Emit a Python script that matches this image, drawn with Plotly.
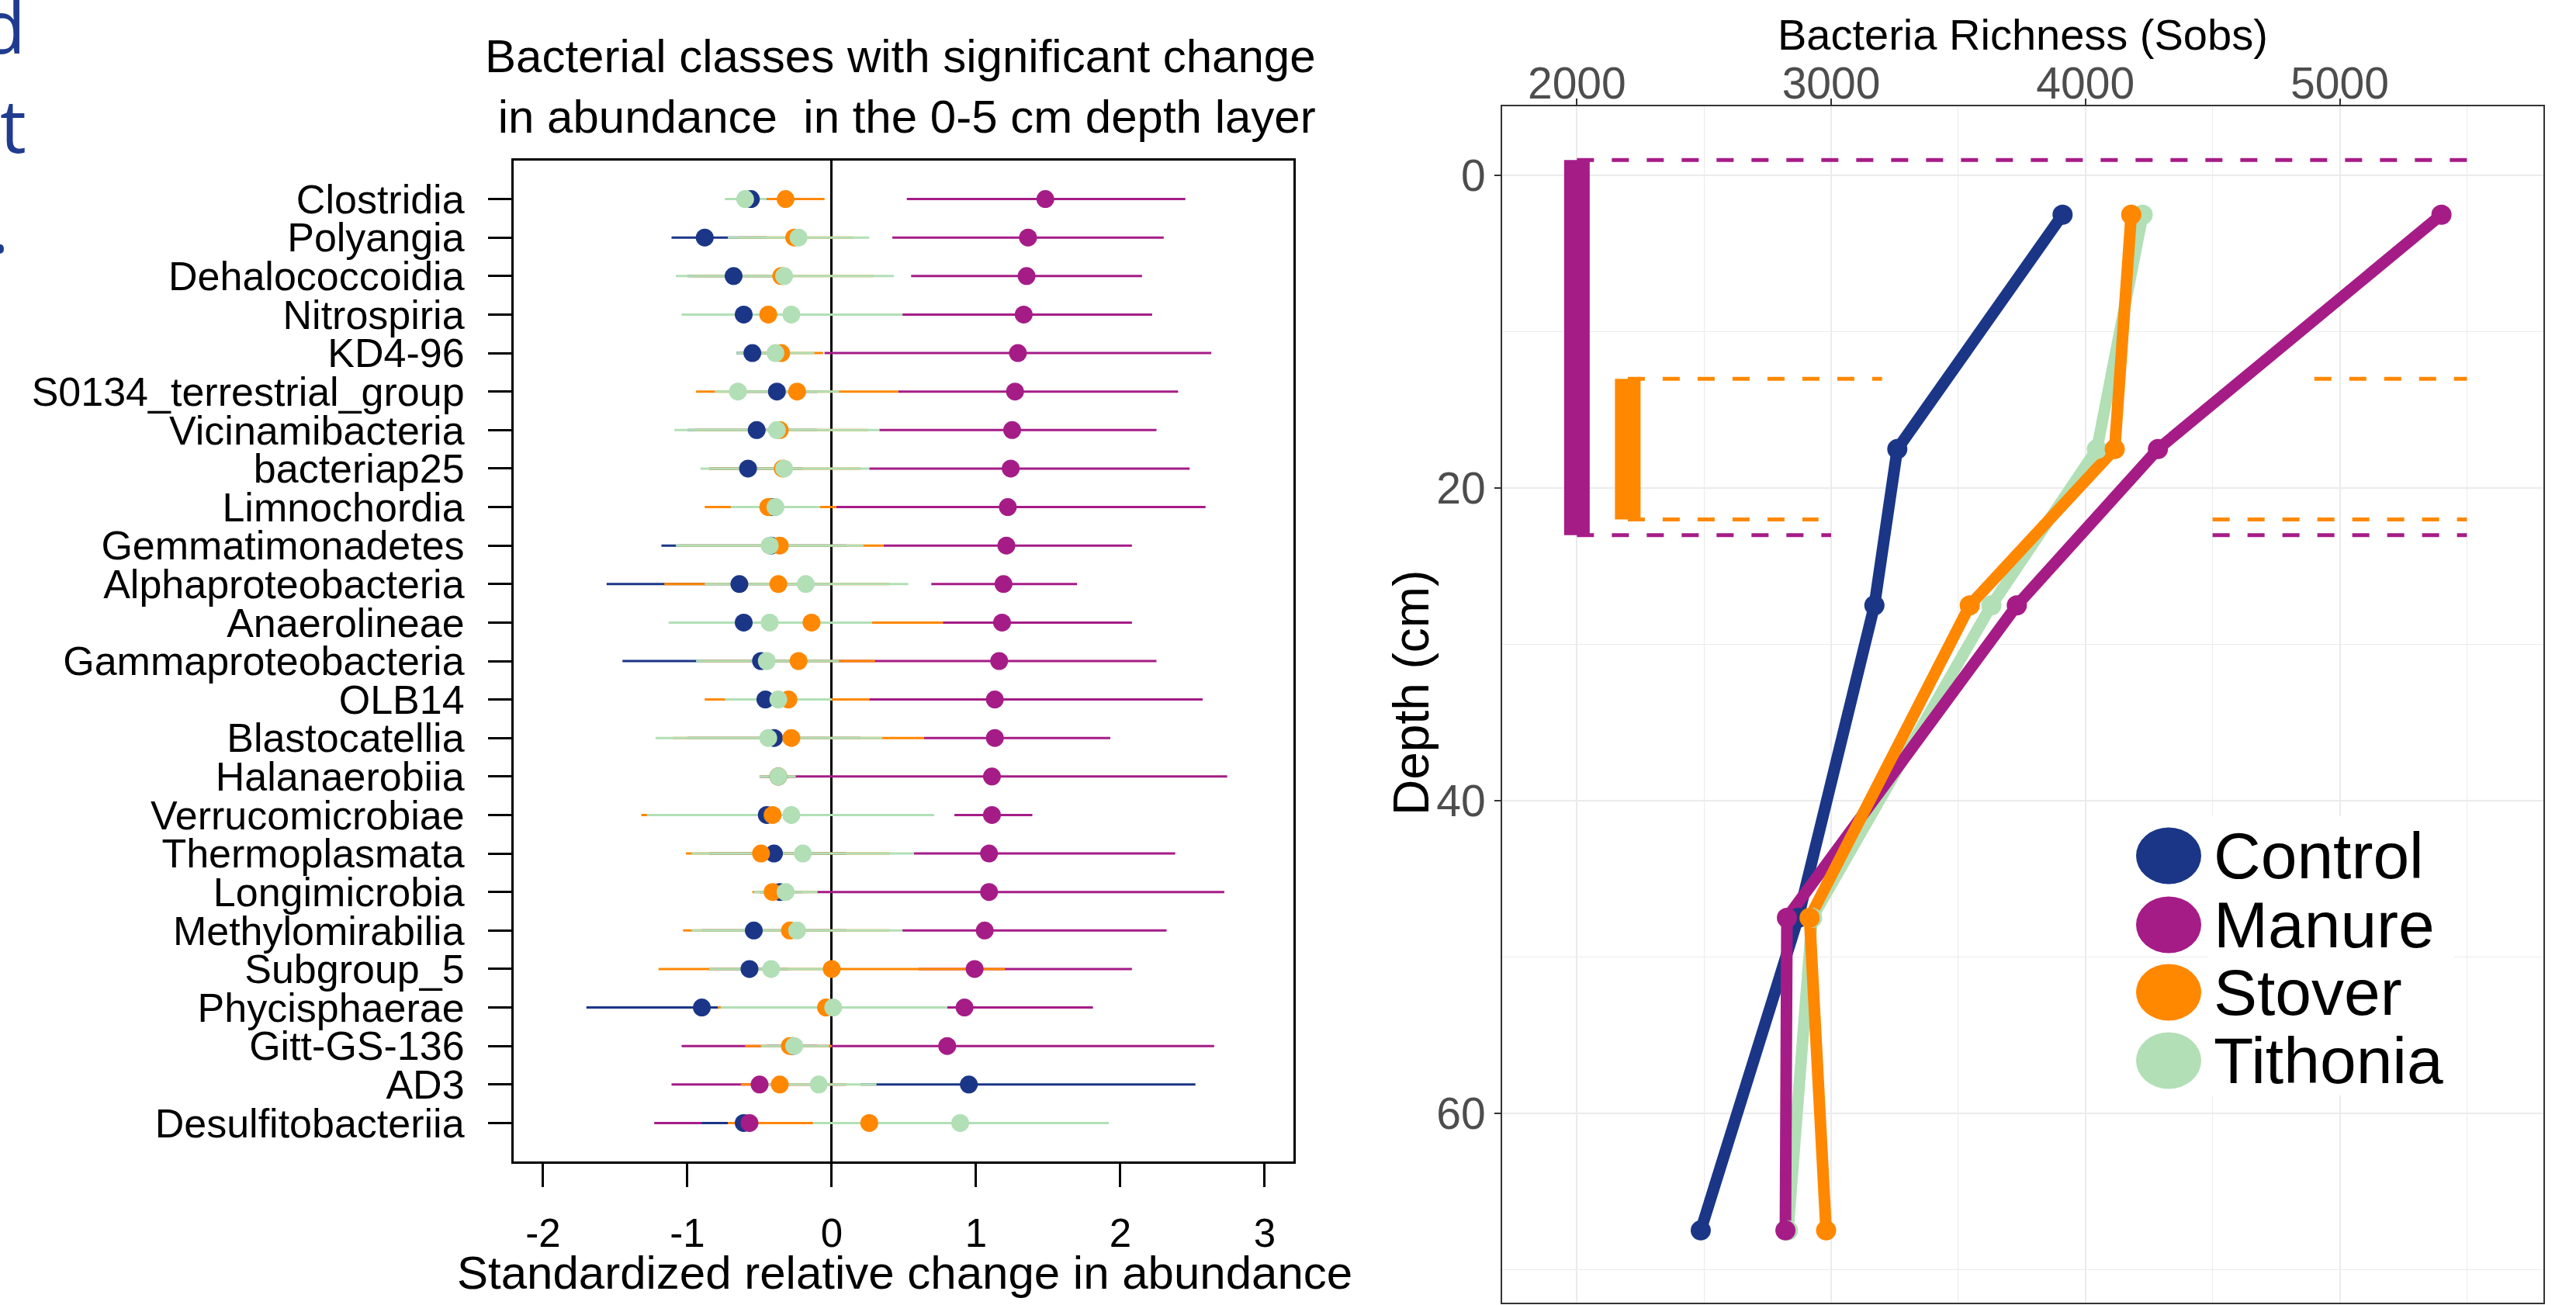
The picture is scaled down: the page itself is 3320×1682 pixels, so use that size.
import plotly.graph_objects as go

W, H = 3320, 1682
FONT = "Liberation Sans, Arial, Helvetica, sans-serif"

# ---------------- Left panel data (top -> bottom) ----------------
classes = ["Clostridia", "Polyangia", "Dehalococcoidia", "Nitrospiria", "KD4-96",
           "S0134_terrestrial_group", "Vicinamibacteria", "bacteriap25", "Limnochordia",
           "Gemmatimonadetes", "Alphaproteobacteria", "Anaerolineae", "Gammaproteobacteria",
           "OLB14", "Blastocatellia", "Halanaerobiia", "Verrucomicrobiae", "Thermoplasmata",
           "Longimicrobia", "Methylomirabilia", "Subgroup_5", "Phycisphaerae", "Gitt-GS-136",
           "AD3", "Desulfitobacteriia"]

control_mean = [-0.56, -0.88, -0.68, -0.61, -0.55, -0.38, -0.52, -0.58, -0.41, -0.42, -0.64, -0.61, -0.49,
                -0.46, -0.40, -0.37, -0.45, -0.40, -0.36, -0.54, -0.57, -0.90, -0.27, 0.95, -0.61]
control_lo = [-0.72, -1.11, -1.00, -0.98, -0.66, -0.70, -1.00, -0.85, -0.60, -1.18, -1.56, -1.00, -1.45,
              -0.70, -1.00, -0.50, -1.10, -0.85, -0.50, -0.90, -0.85, -1.70, -0.45, 0.20, -0.90]
control_hi = [-0.42, -0.45, -0.30, -0.25, -0.40, -0.10, -0.10, -0.20, -0.20, 0.10, 0.00, -0.20, 0.08,
              -0.20, 0.20, -0.25, 0.30, 0.10, -0.20, 0.10, -0.30, -0.77, -0.10, 2.52, -0.30]

manure_mean = [1.48, 1.36, 1.35, 1.33, 1.29, 1.27, 1.25, 1.24, 1.22, 1.21, 1.19, 1.18, 1.16,
               1.13, 1.13, 1.11, 1.11, 1.09, 1.09, 1.06, 0.99, 0.92, 0.80, -0.50, -0.57]
manure_lo = [0.52, 0.42, 0.55, 0.49, -0.05, 0.46, 0.33, 0.26, 0.03, 0.36, 0.69, 0.77, 0.08,
             0.26, 0.64, -0.50, 0.85, 0.57, -0.10, 0.49, 0.60, 0.80, -1.04, -1.11, -1.23]
manure_hi = [2.45, 2.30, 2.15, 2.22, 2.63, 2.40, 2.25, 2.48, 2.59, 2.08, 1.70, 2.08, 2.25,
             2.57, 1.93, 2.74, 1.39, 2.38, 2.72, 2.32, 2.08, 1.81, 2.65, 0.10, 0.10]

stover_mean = [-0.32, -0.26, -0.35, -0.44, -0.35, -0.24, -0.36, -0.34, -0.44, -0.36, -0.37, -0.14, -0.23,
               -0.30, -0.28, -0.37, -0.41, -0.49, -0.41, -0.29, 0.00, -0.04, -0.29, -0.36, 0.26]
stover_lo = [-0.45, -0.65, -0.97, -0.98, -0.62, -0.94, -0.95, -0.85, -0.88, -1.05, -1.16, -1.00, -0.90,
             -0.88, -1.10, -0.50, -1.32, -1.01, -0.55, -1.03, -1.20, -0.79, -0.60, -0.63, -0.72]
stover_hi = [-0.05, 0.15, 0.29, 0.10, -0.06, 0.46, 0.25, 0.20, 0.03, 0.36, 0.40, 0.77, 0.30,
             0.26, 0.64, -0.25, 0.50, 0.40, -0.10, 0.40, 1.20, 0.70, 0.00, 0.10, 0.99]

tithonia_mean = [-0.60, -0.23, -0.33, -0.28, -0.39, -0.65, -0.38, -0.33, -0.39, -0.43, -0.18, -0.43, -0.45,
                 -0.37, -0.44, -0.37, -0.28, -0.20, -0.32, -0.24, -0.42, 0.01, -0.26, -0.09, 0.89]
tithonia_lo = [-0.74, -0.72, -1.08, -1.04, -0.66, -0.81, -1.09, -0.91, -0.70, -1.08, -0.88, -1.13, -0.94,
               -0.74, -1.22, -0.50, -1.28, -0.97, -0.54, -0.97, -0.85, -0.77, -0.49, -0.45, -0.13]
tithonia_hi = [-0.45, 0.26, 0.43, 0.49, -0.12, 0.05, 0.33, 0.26, -0.08, 0.22, 0.53, 0.28, 0.05,
               0.00, 0.35, -0.25, 0.71, 0.57, -0.10, 0.49, -0.05, 0.80, -0.02, 0.31, 1.92]

x_ticks_left = [-2, -1, 0, 1, 2, 3]

# ---------------- Right panel data ----------------
depths = [2.5, 17.5, 27.5, 47.5, 67.5]
sobs_control = [3910, 3260, 3170, 2870, 2487]
sobs_manure = [5400, 4285, 3730, 2826, 2820]
sobs_stover = [4180, 4115, 3545, 2915, 2980]
sobs_tithonia = [4225, 4045, 3630, 2925, 2830]

x_ticks_right = [2000, 3000, 4000, 5000]
x_minor_right = [2500, 3500, 4500, 5500]
y_ticks_right = [0, 20, 40, 60]
y_minor_right = [10, 30, 50, 70]

# significance brackets
sig_treat = ["Manure", "Stover"]
sig_x = [2000, 2200]
sig_top = [-1, 13]
sig_bottom = [23, 22]
# dashed guides: (treatment, depth, x start, x end)
dash_treat = ["Manure", "Manure", "Manure", "Stover", "Stover", "Stover", "Stover"]
dash_depth = [-1, 23, 23, 13, 13, 22, 22]
dash_x0 = [2000, 2000, 4500, 2200, 4900, 2200, 4500]
dash_x1 = [5500, 3000, 5500, 3200, 5500, 2950, 5500]

treatments = ["Control", "Manure", "Stover", "Tithonia"]
colors = {"Control": "#1B3687", "Manure": "#A51C87", "Stover": "#FF8800", "Tithonia": "#B2DFB6"}

left = {
    "Control": (control_mean, control_lo, control_hi),
    "Manure": (manure_mean, manure_lo, manure_hi),
    "Stover": (stover_mean, stover_lo, stover_hi),
    "Tithonia": (tithonia_mean, tithonia_lo, tithonia_hi),
}
right = {"Control": sobs_control, "Manure": sobs_manure, "Stover": sobs_stover, "Tithonia": sobs_tithonia}

n = len(classes)
ypos = [n - i for i in range(n)]


def px(x):
    return x / W


def py(y):
    return 1 - y / H


fig = go.Figure()

# ---- left: CI lines
for t in ["Manure", "Control", "Stover", "Tithonia"]:
    m, lo, hi = left[t]
    xs, ys = [], []
    for a, b, yv in zip(lo, hi, ypos):
        xs += [a, b, None]
        ys += [yv, yv, None]
    fig.add_trace(go.Scatter(x=xs, y=ys, mode="lines", xaxis="x", yaxis="y",
                             line=dict(color=colors[t], width=3), hoverinfo="skip", showlegend=False))
# ---- left: points
for t in ["Control", "Stover", "Tithonia", "Manure"]:
    m, lo, hi = left[t]
    fig.add_trace(go.Scatter(x=m, y=ypos, mode="markers", xaxis="x", yaxis="y", name=t,
                             marker=dict(color=colors[t], size=23, line=dict(width=0)), showlegend=False))

# ---- right: dashed guides
for t, d, a, b in zip(dash_treat, dash_depth, dash_x0, dash_x1):
    fig.add_trace(go.Scatter(x=[a, b], y=[d, d], mode="lines", xaxis="x2", yaxis="y2",
                             line=dict(color=colors[t], width=5, dash="22px,23px"),
                             hoverinfo="skip", showlegend=False))
# ---- right: significance bars
for t, xv, a, b in zip(sig_treat, sig_x, sig_top, sig_bottom):
    fig.add_trace(go.Scatter(x=[xv, xv], y=[a, b], mode="lines", xaxis="x2", yaxis="y2",
                             line=dict(color=colors[t], width=33), hoverinfo="skip", showlegend=False))
# ---- right: profile lines then points
order_right = ["Tithonia", "Control", "Manure", "Stover"]
for t in order_right:
    fig.add_trace(go.Scatter(x=right[t], y=depths, mode="lines", xaxis="x2", yaxis="y2",
                             line=dict(color=colors[t], width=15), showlegend=False, hoverinfo="skip"))
for t in order_right:
    fig.add_trace(go.Scatter(x=right[t], y=depths, mode="markers", xaxis="x2", yaxis="y2", name=t,
                             marker=dict(color=colors[t], size=26, line=dict(width=0)), showlegend=False))

annotations = []
shapes = []

# left title
annotations.append(dict(
    text="Bacterial classes with significant change<br>\u00a0in abundance\u00a0\u00a0in the 0-5 cm depth layer",
    xref="paper", yref="paper", x=px(1160), y=py(172 + 0.212 * 60 + 1), xanchor="center", yanchor="bottom",
    showarrow=False, align="center", font=dict(family=FONT, size=60, color="black")))
# left x title
annotations.append(dict(
    text="Standardized relative change in abundance", xref="paper", yref="paper",
    x=px(1166), y=py(1662 + 0.212 * 60 + 1), xanchor="center", yanchor="bottom",
    showarrow=False, font=dict(family=FONT, size=60, color="black")))
# right x title
annotations.append(dict(
    text="Bacteria Richness (Sobs)", xref="paper", yref="paper",
    x=px(2607), y=py(65 + 0.212 * 56 + 1), xanchor="center", yanchor="bottom",
    showarrow=False, font=dict(family=FONT, size=56, color="black")))
# right y title
annotations.append(dict(
    text="Depth (cm)", xref="paper", yref="paper", x=px(1819), y=py(892),
    xanchor="center", yanchor="middle", textangle=-90,
    showarrow=False, font=dict(family=FONT, size=64, color="black")))

# legend (drawn manually)
shapes.append(dict(type="rect", xref="paper", yref="paper", x0=px(2845), x1=px(3163),
                   y0=py(1412), y1=py(1052), fillcolor="white", line=dict(width=0), layer="above"))
leg_y = [1103, 1192, 1279, 1367]
for t, yy in zip(treatments, leg_y):
    shapes.append(dict(type="circle", xref="paper", yref="paper",
                       x0=px(2795 - 42), x1=px(2795 + 42), y0=py(yy + 36.5), y1=py(yy - 36.5),
                       fillcolor=colors[t], line=dict(width=0), layer="above"))
    annotations.append(dict(text=t, xref="paper", yref="paper", x=px(2851), y=py(yy),
                            xanchor="left", yanchor="middle", showarrow=False,
                            font=dict(family=FONT, size=84, color="black")))

# clipped blue text at left edge
BLUE = "#1F3C8F"
for ch, xr, base in [("d", 35, 70), ("t", 36, 198), (".", 14, 327)]:
    annotations.append(dict(text=ch, xref="paper", yref="paper", x=px(xr), y=py(base + 0.293 * 95 + 1),
                            xanchor="right", yanchor="bottom", showarrow=False,
                            font=dict(family="Open Sans, sans-serif", size=95, color=BLUE)))

fig.update_layout(
    width=W, height=H, margin=dict(l=0, r=0, t=0, b=0, pad=0),
    paper_bgcolor="white", plot_bgcolor="white", showlegend=False,
    font=dict(family=FONT, color="black"),
    xaxis=dict(domain=[px(662), px(1667)], range=[-2.204, 3.199], anchor="y",
               tickvals=x_ticks_left, ticktext=[str(v) for v in x_ticks_left],
               ticks="outside", ticklen=30, tickwidth=2.5, tickcolor="black",
               showline=True, mirror=True, linecolor="black", linewidth=3,
               showgrid=False, zeroline=True, zerolinecolor="black", zerolinewidth=2.5,
               tickfont=dict(family=FONT, size=51, color="black"), ticklabelstandoff=16),
    yaxis=dict(domain=[py(1497), py(207)], range=[0, 26], anchor="x",
               tickvals=ypos, ticktext=classes,
               ticks="outside", ticklen=30, tickwidth=3, tickcolor="black",
               showline=True, mirror=True, linecolor="black", linewidth=3,
               showgrid=False, zeroline=False,
               tickfont=dict(family=FONT, size=52, color="black"), ticklabelstandoff=20),
    xaxis2=dict(domain=[px(1936), px(3278)], range=[1706, 5801], anchor="y2", side="top",
                tickvals=x_ticks_right, ticks="outside", ticklen=8, tickwidth=2, tickcolor="#333333",
                showline=True, mirror=True, linecolor="#333333", linewidth=2,
                showgrid=True, gridcolor="#EBEBEB", gridwidth=2.2, zeroline=False,
                minor=dict(tickvals=x_minor_right, showgrid=True, gridcolor="#EBEBEB", gridwidth=1.1, ticks=""),
                tickfont=dict(family=FONT, size=57, color="#4D4D4D"), ticklabelstandoff=-23),
    yaxis2=dict(domain=[py(1678.5), py(137)], range=[72.1, -4.44], anchor="x2",
                tickvals=y_ticks_right, ticks="outside", ticklen=8, tickwidth=2, tickcolor="#333333",
                showline=True, mirror=True, linecolor="#333333", linewidth=2,
                showgrid=True, gridcolor="#EBEBEB", gridwidth=2.2, zeroline=False,
                minor=dict(tickvals=y_minor_right, showgrid=True, gridcolor="#EBEBEB", gridwidth=1.1, ticks=""),
                tickfont=dict(family=FONT, size=57, color="#4D4D4D")),
    annotations=annotations, shapes=shapes,
)

fig.write_html("out.html", config={"displayModeBar": False},
               post_script="document.body.style.margin='0';document.body.style.overflow='hidden';")
